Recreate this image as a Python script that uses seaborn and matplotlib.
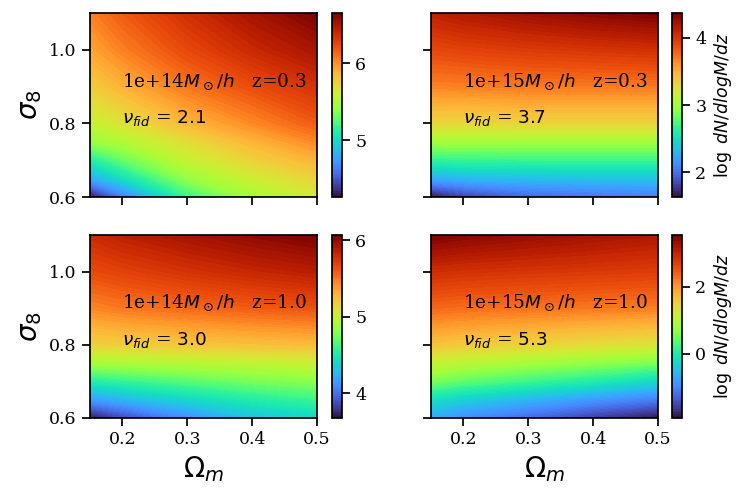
import numpy as np
import matplotlib
matplotlib.use("Agg")
import matplotlib.pyplot as plt
import seaborn as sns

# ---------- data ----------
omega_m = [0.15, 0.2, 0.3, 0.4, 0.5]
sigma_8 = [0.6, 0.65, 0.7, 0.75, 0.8, 0.9, 1.0, 1.1]

# log dN/dlogM/dz, rows = sigma_8, cols = omega_m
m14_z03 = [
    [4.26, 4.62, 5.17, 5.46, 5.62],
    [4.79, 5.02, 5.41, 5.60, 5.74],
    [5.10, 5.29, 5.57, 5.74, 5.88],
    [5.41, 5.50, 5.69, 5.87, 6.03],
    [5.57, 5.66, 5.86, 6.02, 6.17],
    [5.77, 5.88, 6.08, 6.22, 6.34],
    [5.93, 6.05, 6.24, 6.39, 6.51],
    [6.05, 6.17, 6.36, 6.52, 6.65],
]
m15_z03 = [
    [1.63, 1.80, 1.95, 2.00, 2.05],
    [2.25, 2.30, 2.33, 2.35, 2.35],
    [2.65, 2.67, 2.68, 2.68, 2.68],
    [3.00, 3.00, 3.00, 3.00, 3.00],
    [3.30, 3.30, 3.32, 3.32, 3.32],
    [3.67, 3.68, 3.70, 3.70, 3.70],
    [3.90, 3.93, 3.97, 4.00, 4.03],
    [4.12, 4.17, 4.25, 4.32, 4.37],
]
m14_z10 = [
    [3.68, 3.85, 4.10, 4.30, 4.40],
    [4.16, 4.25, 4.40, 4.52, 4.60],
    [4.52, 4.58, 4.67, 4.75, 4.80],
    [4.88, 4.90, 4.94, 4.97, 5.00],
    [5.16, 5.18, 5.21, 5.24, 5.26],
    [5.45, 5.49, 5.54, 5.58, 5.62],
    [5.65, 5.69, 5.76, 5.82, 5.87],
    [5.80, 5.86, 5.94, 6.01, 6.07],
]
m15_z10 = [
    [-0.71, -0.95, -1.26, -1.60, -1.91],
    [-0.17, -0.35, -0.60, -0.85, -1.09],
    [0.54, 0.40, 0.20, 0.00, -0.27],
    [1.09, 0.98, 0.82, 0.68, 0.54],
    [1.63, 1.55, 1.45, 1.35, 1.25],
    [2.34, 2.30, 2.26, 2.22, 2.18],
    [2.89, 2.85, 2.80, 2.76, 2.72],
    [3.54, 3.45, 3.35, 3.25, 3.16],
]

masses = ["1e+14", "1e+15", "1e+14", "1e+15"]
redshifts = ["0.3", "0.3", "1.0", "1.0"]
nu_fid = ["2.1", "3.7", "3.0", "5.3"]
cbar_ticks = [[5, 6], [2, 3, 4], [4, 5, 6], [0, 2]]
fields = [m14_z03, m15_z03, m14_z10, m15_z10]

# ---------- style ----------
sns.set_theme(style="ticks")
plt.rcParams["font.family"] = "serif"
plt.rcParams["font.serif"] = ["DejaVu Serif"]
plt.rcParams["mathtext.fontset"] = "dejavusans"
plt.rcParams["xtick.labelsize"] = 12.5
plt.rcParams["ytick.labelsize"] = 12.5
for key in ["text.color", "axes.labelcolor", "xtick.color", "ytick.color",
            "axes.edgecolor"]:
    plt.rcParams[key] = "black"

cmap = sns.color_palette("turbo", as_cmap=True)

W, H = 748, 499
fig = plt.figure(figsize=(W / 100, H / 100), dpi=100)

# pixel boxes: (left, top, right, bottom)
ax_boxes = [(90, 13, 317, 197), (431, 13, 658, 197),
            (90, 235, 317, 418), (431, 235, 658, 418)]
cb_boxes = [(332, 13, 342, 197), (672, 13, 682, 197),
            (332, 235, 342, 418), (672, 235, 682, 418)]


def to_frac(box):
    l, t, r, b = box
    return [l / W, 1 - b / H, (r - l) / W, (b - t) / H]


for i in range(4):
    ax = fig.add_axes(to_frac(ax_boxes[i]))
    cax = fig.add_axes(to_frac(cb_boxes[i]))
    z = np.array(fields[i])
    levels = np.linspace(z.min(), z.max(), 100)
    cs = ax.contourf(omega_m, sigma_8, z, levels=levels, cmap=cmap)
    ax.set_xlim(0.15, 0.5)
    ax.set_ylim(0.6, 1.1)
    ax.set_xticks([0.2, 0.3, 0.4, 0.5])
    ax.set_yticks([0.6, 0.8, 1.0])
    if i < 2:
        ax.set_xticklabels([])
    else:
        ax.set_xlabel(r"$\Omega_m$", fontsize=20)
    if i % 2 == 1:
        ax.set_yticklabels([])
    else:
        ax.set_ylabel(r"$\sigma_8$", fontsize=20)

    ax.text(0.2, 0.9, masses[i] + r"$M_\odot/h$" + "   z=" + redshifts[i],
            fontsize=13.3, va="baseline")
    ax.text(0.2, 0.8, r"$\nu_{fid}$ = " + "$" + nu_fid[i] + "$",
            fontsize=13.3, va="baseline")

    cb = fig.colorbar(cs, cax=cax, ticks=cbar_ticks[i])
    cb.ax.tick_params(labelsize=12.5)
    if i % 2 == 1:
        cb.set_label(r"$\log\ dN/dlogM/dz$", fontsize=12.5)

fig.savefig("out.png", dpi=100)
